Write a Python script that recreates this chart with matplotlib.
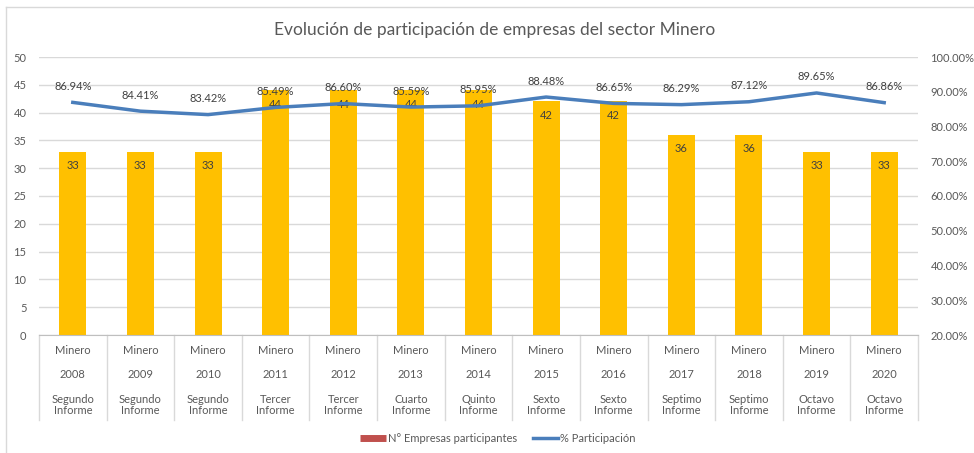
import numpy as np
import matplotlib.pyplot as plt
from matplotlib.lines import Line2D
from matplotlib.transforms import blended_transform_factory
from matplotlib.ticker import FuncFormatter

plt.rcParams['font.family'] = ['Lato', 'DejaVu Sans']

# data
years = ['2008', '2009', '2010', '2011', '2012', '2013', '2014',
         '2015', '2016', '2017', '2018', '2019', '2020']
informes = ['Segundo\nInforme', 'Segundo\nInforme', 'Segundo\nInforme',
            'Tercer\nInforme', 'Tercer\nInforme', 'Cuarto\nInforme',
            'Quinto\nInforme', 'Sexto\nInforme', 'Sexto\nInforme',
            'Septimo\nInforme', 'Septimo\nInforme', 'Octavo\nInforme',
            'Octavo\nInforme']
empresas = [33, 33, 33, 44, 44, 44, 44, 42, 42, 36, 36, 33, 33]
participacion = [86.94, 84.41, 83.42, 85.49, 86.60, 85.59, 85.95,
                 88.48, 86.65, 86.29, 87.12, 89.65, 86.86]

bar_color = '#FFC000'
line_color = '#4A7EBB'
text_gray = '#595959'
label_gray = '#404040'
grid_gray = '#D9D9D9'

W, H = 974, 453
fig = plt.figure(figsize=(W / 100, H / 100), dpi=100)
x0, x1, ytop, ybot = 39, 918, 57, 335
ax = fig.add_axes([x0 / W, 1 - ybot / H, (x1 - x0) / W, (ybot - ytop) / H])

x = np.arange(len(years))
bars = ax.bar(x, empresas, width=0.4, color=bar_color, zorder=2)
for xi, v in zip(x, empresas):
    ax.annotate(str(v), (xi, v), xytext=(0, -10), textcoords='offset points',
                ha='center', va='center', fontsize=8, color=label_gray, zorder=5)

ax.set_xlim(-0.5, len(years) - 0.5)
ax.set_ylim(0, 50)
ax.set_yticks(np.arange(0, 51, 5))
ax.yaxis.grid(True, color=grid_gray, linewidth=1)
ax.set_axisbelow(True)
for s in ['top', 'right', 'left']:
    ax.spines[s].set_visible(False)
ax.spines['bottom'].set_color('#BFBFBF')
ax.set_xticks([])
ax.tick_params(axis='y', length=0, labelsize=8, labelcolor=text_gray, pad=9)

# multi-level category labels
trans = blended_transform_factory(ax.transData, ax.transAxes)
hpx = ybot - ytop
for b in np.arange(-0.5, len(years), 1.0):
    ax.plot([b, b], [0, -(420 - ybot) / hpx], transform=trans, color=grid_gray,
            linewidth=1, clip_on=False)
for xi, yr, inf in zip(x, years, informes):
    ax.text(xi, -(351 - ybot) / hpx, 'Minero', transform=trans, ha='center',
            va='center', fontsize=8, color=text_gray)
    ax.text(xi, -(374 - ybot) / hpx, yr, transform=trans, ha='center',
            va='center', fontsize=8, color=text_gray)
    ax.text(xi, -(405 - ybot) / hpx, inf, transform=trans, ha='center',
            va='center', fontsize=8, color=text_gray, linespacing=1.05)

# secondary axis
ax2 = ax.twinx()
ax2.plot(x, np.array(participacion) / 100, color=line_color, linewidth=2.5, zorder=3)
for xi, p in zip(x, participacion):
    ax2.annotate(f'{p:.2f}%', (xi, p / 100), xytext=(0, 11.5), textcoords='offset points',
                 ha='center', va='center', fontsize=8, color=label_gray)
ax2.set_ylim(0.2, 1.0)
ax2.set_yticks(np.arange(0.2, 1.01, 0.1))
ax2.yaxis.set_major_formatter(FuncFormatter(lambda v, _: f'{v * 100:.2f}%'))
ax2.tick_params(axis='y', length=0, labelsize=8, labelcolor=text_gray, pad=9)
for s in ['top', 'right', 'left', 'bottom']:
    ax2.spines[s].set_visible(False)

fig.text(495 / W, 1 - 30 / H, 'Evolución de participación de empresas del sector Minero',
         ha='center', va='center', fontsize=12.5, color=text_gray)

handles = [Line2D([], [], color='#C0504D', linewidth=5, solid_capstyle='butt'),
           Line2D([], [], color=line_color, linewidth=2.5)]
fig.legend(handles, ['N° Empresas participantes', '% Participación'], loc='center',
           bbox_to_anchor=(498 / W, 1 - 438 / H), ncol=2, frameon=False,
           fontsize=8, labelcolor=text_gray, handlelength=2.3, handletextpad=0.2,
           columnspacing=1.4)

# chart border
fig.add_artist(Line2D([6 / W, 1], [1 - 7 / H, 1 - 7 / H], color='#D9D9D9', linewidth=1))
fig.add_artist(Line2D([6 / W, 6 / W], [0, 1 - 7 / H], color='#D9D9D9', linewidth=1))

fig.savefig('out.png', dpi=100)
